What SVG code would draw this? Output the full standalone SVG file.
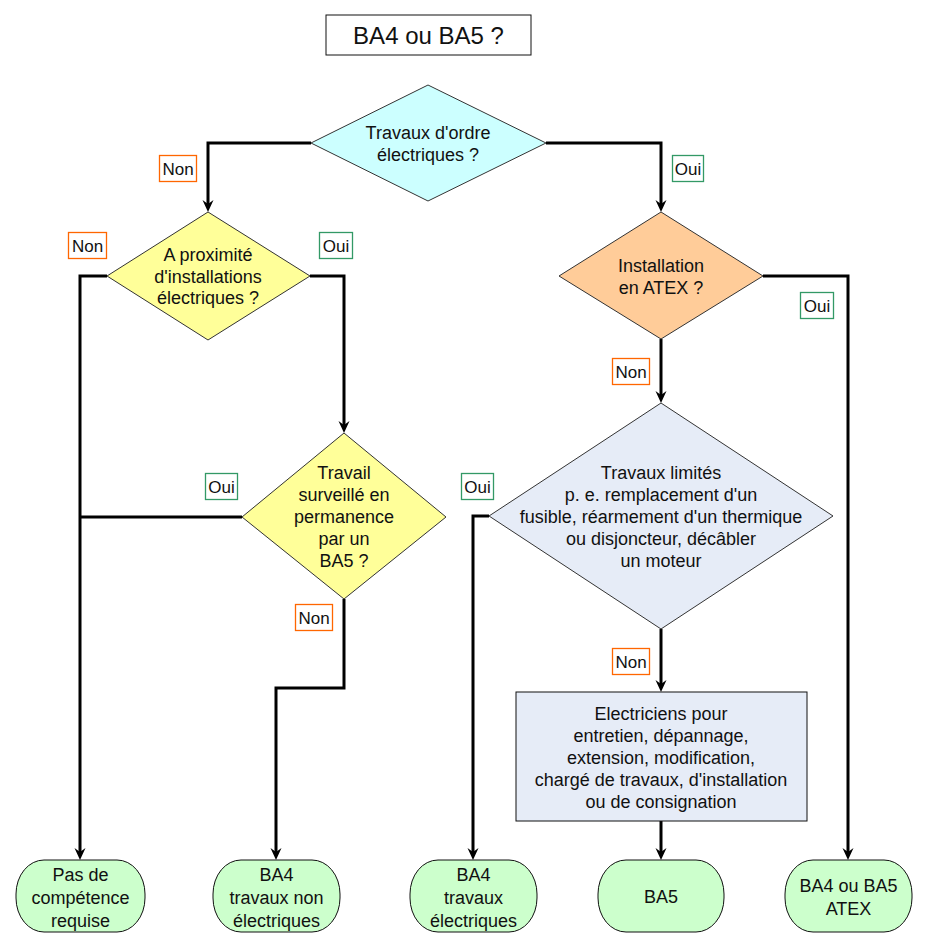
<svg xmlns="http://www.w3.org/2000/svg" width="929" height="948" viewBox="0 0 929 948">
<style>
text{font-family:"Liberation Sans",Arial,sans-serif;font-size:18px;fill:#111;text-anchor:middle}
.lab{font-size:17px}
.dia{stroke:#333;stroke-width:1}
.end{fill:#ccffcc;stroke:#111;stroke-width:1}
.con{fill:none;stroke:#000;stroke-width:3;marker-end:url(#arr)}
.con2{fill:none;stroke:#000;stroke-width:3}
.non{fill:#fff;stroke:#ff6600;stroke-width:1.3}
.oui{fill:#fff;stroke:#339966;stroke-width:1.3}
</style>
<defs>
<marker id="arr" viewBox="0 0 12 12" refX="6" refY="6" markerWidth="12" markerHeight="12" markerUnits="userSpaceOnUse" orient="auto">
<path d="M0,0.5 L12,6 L0,11.5 L4,6 z" fill="#000"/>
</marker>
</defs>
<rect width="929" height="948" fill="#fff"/>
<g id="title">
<rect x="326" y="15" width="205" height="40" fill="#fff" stroke="#111" stroke-width="1"/>
<text x="428.5" y="44" style="font-size:24px">BA4 ou BA5 ?</text>
</g>
<g id="connectors">
<path class="con" d="M311,143 H208 V206"/>
<path class="con" d="M546,143 H661 V206"/>
<path class="con" d="M107,276 H80 V854"/>
<path class="con" d="M310,276 H344 V427"/>
<path class="con2" d="M242,517 H80"/>
<path class="con" d="M344,599 V688 H276 V854"/>
<path class="con" d="M763,276 H848 V854"/>
<path class="con" d="M661,339 V397"/>
<path class="con" d="M489,516 H473 V854"/>
<path class="con" d="M661,629 V686"/>
<path class="con" d="M661,821 V854"/>
</g>
<g id="q1">
<polygon class="dia" points="428,85 546,143 428,201 311,143" fill="#ccffff"/>
<text x="428" y="139">Travaux d'ordre</text>
<text x="428" y="161">électriques ?</text>
</g>
<g id="q2">
<polygon class="dia" points="208,212 310,276 208,340 107,276" fill="#ffff99"/>
<text x="208" y="261">A proximité</text>
<text x="208" y="283">d'installations</text>
<text x="208" y="304">électriques ?</text>
</g>
<g id="q4">
<polygon class="dia" points="344,433 446,517 344,599 242,517" fill="#ffff99"/>
<text x="344" y="479">Travail</text>
<text x="344" y="501">surveillé en</text>
<text x="344" y="523">permanence</text>
<text x="344" y="545">par un</text>
<text x="344" y="567">BA5 ?</text>
</g>
<g id="q3">
<polygon class="dia" points="661,212 763,276 661,339 559,276" fill="#ffcc99"/>
<text x="661" y="272">Installation</text>
<text x="661" y="294">en ATEX ?</text>
</g>
<g id="q5">
<polygon class="dia" points="661,403 833,516 661,629 489,516" fill="#e6ecf7"/>
<text x="661" y="479">Travaux limités</text>
<text x="661" y="501">p. e. remplacement d'un</text>
<text x="661" y="523">fusible, réarmement d'un thermique</text>
<text x="661" y="545">ou disjoncteur, décâbler</text>
<text x="661" y="567">un moteur</text>
</g>
<g id="electriciens">
<rect x="516" y="692" width="291" height="129" fill="#e6ecf7" stroke="#111" stroke-width="1"/>
<text x="661" y="720">Electriciens pour</text>
<text x="661" y="742">entretien, dépannage,</text>
<text x="661" y="764">extension, modification,</text>
<text x="661" y="786">chargé de travaux, d'installation</text>
<text x="661" y="808">ou de consignation</text>
</g>
<g id="r1">
<rect class="end" x="16" y="860" width="129" height="72" rx="28" ry="34"/>
<text x="80.5" y="881">Pas de</text>
<text x="80.5" y="904">compétence</text>
<text x="80.5" y="927">requise</text>
</g>
<g id="r2">
<rect class="end" x="213" y="860" width="127" height="72" rx="28" ry="34"/>
<text x="276.5" y="881">BA4</text>
<text x="276.5" y="904">travaux non</text>
<text x="276.5" y="927">électriques</text>
</g>
<g id="r3">
<rect class="end" x="410" y="860" width="127" height="72" rx="28" ry="34"/>
<text x="473.5" y="881">BA4</text>
<text x="473.5" y="904">travaux</text>
<text x="473.5" y="927">électriques</text>
</g>
<g id="r4">
<rect class="end" x="598" y="860" width="126" height="72" rx="28" ry="34"/>
<text x="661" y="903">BA5</text>
</g>
<g id="r5">
<rect class="end" x="785" y="860" width="127" height="72" rx="28" ry="34"/>
<text x="848.5" y="892">BA4 ou BA5</text>
<text x="848.5" y="915">ATEX</text>
</g>
<g id="labels">
<rect class="non" x="159.5" y="155.5" width="37" height="26"/><text class="lab" x="178" y="175">Non</text>
<rect class="oui" x="672.5" y="155.5" width="31" height="26"/><text class="lab" x="688" y="175">Oui</text>
<rect class="non" x="68.5" y="232.5" width="38" height="26"/><text class="lab" x="87.5" y="252">Non</text>
<rect class="oui" x="319.5" y="232.5" width="33" height="26"/><text class="lab" x="336" y="252">Oui</text>
<rect class="oui" x="800.5" y="292.5" width="33" height="26"/><text class="lab" x="817" y="312">Oui</text>
<rect class="non" x="612.5" y="358.5" width="37" height="26"/><text class="lab" x="631" y="378">Non</text>
<rect class="oui" x="205.5" y="473.5" width="32" height="26"/><text class="lab" x="221.5" y="493">Oui</text>
<rect class="oui" x="461.5" y="473.5" width="32" height="26"/><text class="lab" x="477.5" y="493">Oui</text>
<rect class="non" x="295.5" y="604.5" width="37" height="26"/><text class="lab" x="314" y="624">Non</text>
<rect class="non" x="612.5" y="648.5" width="37" height="26"/><text class="lab" x="631" y="668">Non</text>
</g>
</svg>
